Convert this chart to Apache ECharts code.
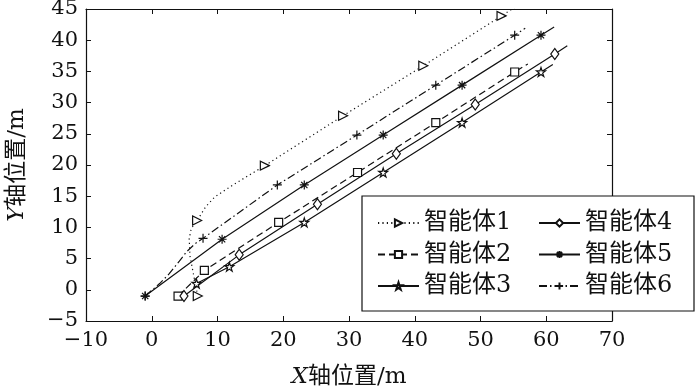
<!DOCTYPE html>
<html>
<head>
<meta charset="utf-8">
<script src="https://cdn.jsdelivr.net/npm/echarts@6/dist/echarts.min.js"></script>
<style>
  html, body { margin: 0; padding: 0; background: #fff; }
  #main { width: 700px; height: 389px; }
</style>
</head>
<body>
<div id="main"></div>
<script>
// trajectories [x, y]; *Marks = indices of points that carry a marker
const agentNames = ['智能体1', '智能体2', '智能体3', '智能体4', '智能体5', '智能体6'];

const agent1 = [[7, -1], [6.4, 2.2], [5.8, 5.5], [5.7, 8.2], [6.0, 9.8], [6.9, 11.1], [8.2, 13.3],
    [9.6, 14.9], [12.5, 16.9], [17.2, 19.9], [29.1, 27.9], [41.3, 35.9], [53.2, 43.9], [56, 45.8]];
const agent1Marks = [0, 5, 9, 10, 11, 12];

const agent2 = [[4, -1], [8, 3.1], [19.3, 10.8], [31.3, 18.8], [43.2, 26.8], [55.2, 34.9], [57.2, 36.2]];
const agent2Marks = [0, 1, 2, 3, 4, 5];

const agent3 = [[6.8, 1.0], [11.8, 3.7], [23.2, 10.8], [35.2, 18.8], [47.2, 26.8], [59.2, 34.9], [61, 36.1]];
const agent3Marks = [0, 1, 2, 3, 4, 5];

const agent4 = [[4.9, -1], [13.3, 5.6], [25.2, 13.7], [37.2, 21.8], [49.2, 29.7], [61.3, 37.8], [63.2, 39.1]];
const agent4Marks = [0, 1, 2, 3, 4, 5];

const agent5 = [[-1, -1], [10.7, 8.1], [23.2, 16.8], [35.2, 24.8], [47.2, 32.8], [59.2, 40.8], [61.2, 42.1]];
const agent5Marks = [0, 1, 2, 3, 4, 5];

const agent6 = [[-1, -1], [1.2, 1.0], [2.6, 2.5], [4.2, 4.6], [5.3, 6.1], [6.6, 7.4], [7.8, 8.25],
    [19.1, 16.8], [31.2, 24.8], [43.2, 32.8], [55.2, 40.8], [56.8, 41.9]];
const agent6Marks = [0, 6, 7, 8, 9, 10];

const FONT = '"DejaVu Serif", "Noto Sans CJK SC", serif';
const INK = '#111';

const asterisk = 'path://M0,5L10,5M5,0L5,10M1.5,1.5L8.5,8.5M1.5,8.5L8.5,1.5';
const plus = 'path://M0,5L10,5M5,0L5,10';
const star = 'path://M5,0L6.2,3.6L10,3.6L6.9,5.9L8.1,9.5L5,7.3L1.9,9.5L3.1,5.9L0,3.6L3.8,3.6Z';

function toData(path, marks) {
    return path.map((p, i) => marks.includes(i) ? p : {value: p, symbol: 'none'});
}

function agentSeries(name, path, marks, dash, symbol, size, rotate) {
    return {
        name: name,
        type: 'line',
        data: toData(path, marks),
        symbol: symbol,
        symbolSize: size,
        symbolRotate: rotate || 0,
        showAllSymbol: true,
        smooth: false,
        clip: true,
        lineStyle: {color: INK, width: 1.2, type: dash},
        itemStyle: {color: '#fff', borderColor: INK, borderWidth: 1.2},
        emphasis: {disabled: true},
    };
}

const numLabel = (v) => String(v).replace('-', '\u2212');

function axisBase() {
    return {
        type: 'value',
        axisLine: {show: true, onZero: false, lineStyle: {color: INK, width: 1.2}},
        axisTick: {show: true, inside: true, length: 5, lineStyle: {color: INK}},
        splitLine: {show: false},
    };
}

const chart = echarts.init(document.getElementById('main'));
chart.setOption({
    animation: false,
    backgroundColor: '#fff',
    grid: {left: 86, top: 9, right: 88, bottom: 68, outerBoundsMode: 'none', containLabel: false},
    xAxis: [
        Object.assign(axisBase(), {
            min: -10, max: 70, interval: 10, position: 'bottom',
            axisLabel: {color: INK, fontFamily: FONT, fontSize: 21, margin: 9, formatter: numLabel,
                showMinLabel: true, showMaxLabel: true},
            name: '{i|X}轴位置/m',
            nameLocation: 'middle',
            nameGap: 45,
            nameTextStyle: {color: INK, fontFamily: FONT, fontSize: 23,
                rich: {i: {fontStyle: 'italic', fontFamily: FONT, fontSize: 23, color: INK}}},
        }),
        Object.assign(axisBase(), {
            min: -10, max: 70, interval: 10, position: 'top', axisLabel: {show: false},
        }),
    ],
    yAxis: [
        Object.assign(axisBase(), {
            min: -5, max: 45, interval: 5, position: 'left',
            axisLabel: {color: INK, fontFamily: FONT, fontSize: 21, margin: 8, formatter: numLabel,
                showMinLabel: true, showMaxLabel: true},
            name: '{i|Y}轴位置/m',
            nameLocation: 'middle',
            nameRotate: 90,
            nameGap: 57,
            nameTextStyle: {color: INK, fontFamily: FONT, fontSize: 23,
                rich: {i: {fontStyle: 'italic', fontFamily: FONT, fontSize: 23, color: INK}}},
        }),
        Object.assign(axisBase(), {
            min: -5, max: 45, interval: 5, position: 'right', axisLabel: {show: false},
        }),
    ],
    graphic: [{
        type: 'rect',
        z: 3,
        shape: {x: 362, y: 196, width: 332, height: 115},
        style: {fill: '#fff', stroke: INK, lineWidth: 1.2},
    }],
    legend: [
        {
            data: agentNames.slice(0, 3),
            orient: 'vertical', left: 377, top: 211, padding: 0, itemGap: 7.5,
            itemWidth: 41, itemHeight: 9, z: 5,
            textStyle: {color: INK, fontFamily: FONT, fontSize: 24, lineHeight: 24},
        },
        {
            data: agentNames.slice(3, 6),
            orient: 'vertical', left: 538, top: 211, padding: 0, itemGap: 7.5,
            itemWidth: 41, itemHeight: 9, z: 5,
            textStyle: {color: INK, fontFamily: FONT, fontSize: 24, lineHeight: 24},
        },
    ],
    series: [
        agentSeries(agentNames[0], agent1, agent1Marks, [1.2, 3.2], 'triangle', 9, -90),
        agentSeries(agentNames[1], agent2, agent2Marks, [7, 4], 'rect', 8),
        agentSeries(agentNames[2], agent3, agent3Marks, 'solid', star, 9),
        agentSeries(agentNames[3], agent4, agent4Marks, 'solid', 'diamond', [8, 11]),
        agentSeries(agentNames[4], agent5, agent5Marks, 'solid', asterisk, 9),
        agentSeries(agentNames[5], agent6, agent6Marks, [8, 3, 1.5, 3], plus, 9),
    ],
});
</script>
</body>
</html>
